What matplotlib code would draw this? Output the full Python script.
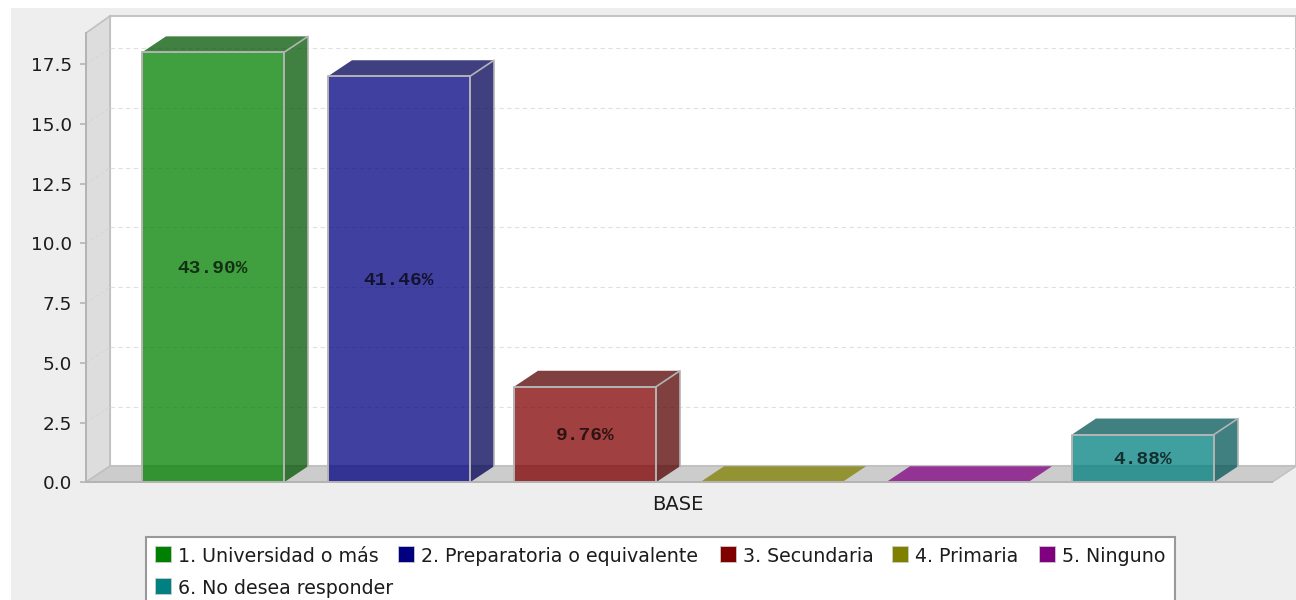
import matplotlib
matplotlib.use("Agg")
import matplotlib.pyplot as plt
from matplotlib.patches import Polygon, Rectangle

# datos
categories = ["1. Universidad o más", "2. Preparatoria o equivalente", "3. Secundaria",
              "4. Primaria", "5. Ninguno", "6. No desea responder"]
values = [18, 17, 4, 0, 0, 2]
percent_labels = ["43.90%", "41.46%", "9.76%", "", "", "4.88%"]
colors = ["#008000", "#000080", "#800000", "#808000", "#800080", "#008080"]
dark_colors = ["#005500", "#000055", "#550000", "#555500", "#550055", "#005555"]
y_ticks = [0, 2.5, 5, 7.5, 10, 12.5, 15, 17.5]
x_label = "BASE"

W, H = 1296, 600
EDGE = "#B4B4B4"
TXT = "#1c1c1c"

fig = plt.figure(figsize=(W / 100, H / 100), dpi=100, facecolor="white")

# capa de fondo en pixeles (panel gris, paredes 3D, leyenda)
bg = fig.add_axes([0, 0, 1, 1], zorder=0)
bg.set_xlim(0, W)
bg.set_ylim(H, 0)
bg.axis("off")
bg.add_patch(Rectangle((11, 8), W, H, fc="#EEEEEE", ec="none"))
bg.add_patch(Rectangle((110, 16), W - 110, 450, fc="white", ec="#C4C4C4", lw=1.5))
bg.add_patch(Polygon([(86, 33), (110, 16), (110, 466), (86, 482)], fc="#DDDDDD", ec="#C0C0C0", lw=1.2))

# ejes principales: plano frontal del grafico
y0_px, y_top_px = 482.3, 33
px_per_unit = (482.3 - 64.3) / 17.5
x_c0, pitch = 213, 186
ax = fig.add_axes([86 / W, 1 - y0_px / H, (1272 - 86) / W, (y0_px - y_top_px) / H], zorder=1)
ax.patch.set_alpha(0)
ax.set_xlim((86 - x_c0) / pitch, (1272 - x_c0) / pitch)
ax.set_ylim(0, (y0_px - y_top_px) / px_per_unit)
dx = 24 / pitch
dy = 16 / px_per_unit
bar_w = 142 / pitch

# rejilla sobre la pared del fondo
x_left, x_right = ax.get_xlim()
for t in y_ticks[1:]:
    ax.plot([x_left + dx, x_right + dx], [t + dy, t + dy], color="#E0E0E0", lw=0.8,
            ls=(0, (4, 3)), clip_on=False, zorder=1)
    ax.plot([x_left, x_left + dx], [t, t + dy], color="#D4D4D4", lw=0.6,
            ls=(0, (4, 3)), clip_on=False, zorder=1)

# suelo
ax.add_patch(Polygon([(x_left, 0), (x_left + dx, dy), (x_right + dx, dy), (x_right, 0)],
                     fc="#CCCCCC", ec="#C0C0C0", lw=1, clip_on=False, zorder=1.5))

# barras con cara frontal, lateral y superior
for i, v in enumerate(values):
    left = i - bar_w / 2
    right = i + bar_w / 2
    if v > 0:
        ax.add_patch(Polygon([(right, 0), (right + dx, dy), (right + dx, v + dy), (right, v)],
                             fc=dark_colors[i], alpha=0.75, ec="none", clip_on=False, zorder=2))
        ax.plot([right, right + dx, right + dx], [v, v + dy, dy], color=EDGE, lw=1.2,
                clip_on=False, zorder=3.5)
    top_c = dark_colors[i] if v > 0 else colors[i]
    ax.add_patch(Polygon([(left, v), (left + dx, v + dy), (right + dx, v + dy), (right, v)],
                         fc=top_c, alpha=0.75, ec="none", clip_on=False, zorder=2))
    if v > 0:
        ax.bar(i, v, width=bar_w, color=colors[i], alpha=0.75, zorder=3)
        ax.plot([left, left, right, right], [0, v, v, 0], color=EDGE, lw=1.4, zorder=3.5)
        ax.text(i, v / 2 - 0.06, percent_labels[i], ha="center", va="center", fontsize=14,
                family="Liberation Mono", weight="bold", color="#000000", alpha=0.7, zorder=4)

for s in ["top", "right"]:
    ax.spines[s].set_visible(False)
for s in ["left", "bottom"]:
    ax.spines[s].set_color(EDGE)
    ax.spines[s].set_linewidth(1.4)
    ax.spines[s].set_zorder(5)
ax.set_yticks(y_ticks)
ax.set_yticklabels([f"{t:.1f}" for t in y_ticks], fontsize=13.2, color=TXT)
ax.tick_params(axis="y", length=4, width=1.2, color=EDGE, pad=6)
ax.set_xticks([2.5])
ax.set_xticklabels([x_label], fontsize=14, color=TXT)
ax.tick_params(axis="x", length=0, pad=9)

# leyenda (dos filas, cortada por el borde inferior como en el original)
leg = fig.add_axes([0, 0, 1, 1], zorder=2)
leg.set_xlim(0, W)
leg.set_ylim(H, 0)
leg.axis("off")
leg.add_patch(Rectangle((146, 537), 1029, 80, fc="white", ec="#999999", lw=1.5))
leg_x = [155, 398, 720, 892, 1039, 155]
leg_y = [555, 555, 555, 555, 555, 587]
for name, c, lx, ly in zip(categories, colors, leg_x, leg_y):
    leg.add_patch(Rectangle((lx, ly - 9), 16, 16, fc=c, ec="#cccccc", lw=0.6))
    leg.text(lx + 23, ly + 1, name, fontsize=13.7, color=TXT, va="center", ha="left")

fig.savefig("out.png", dpi=100, facecolor=fig.get_facecolor())
